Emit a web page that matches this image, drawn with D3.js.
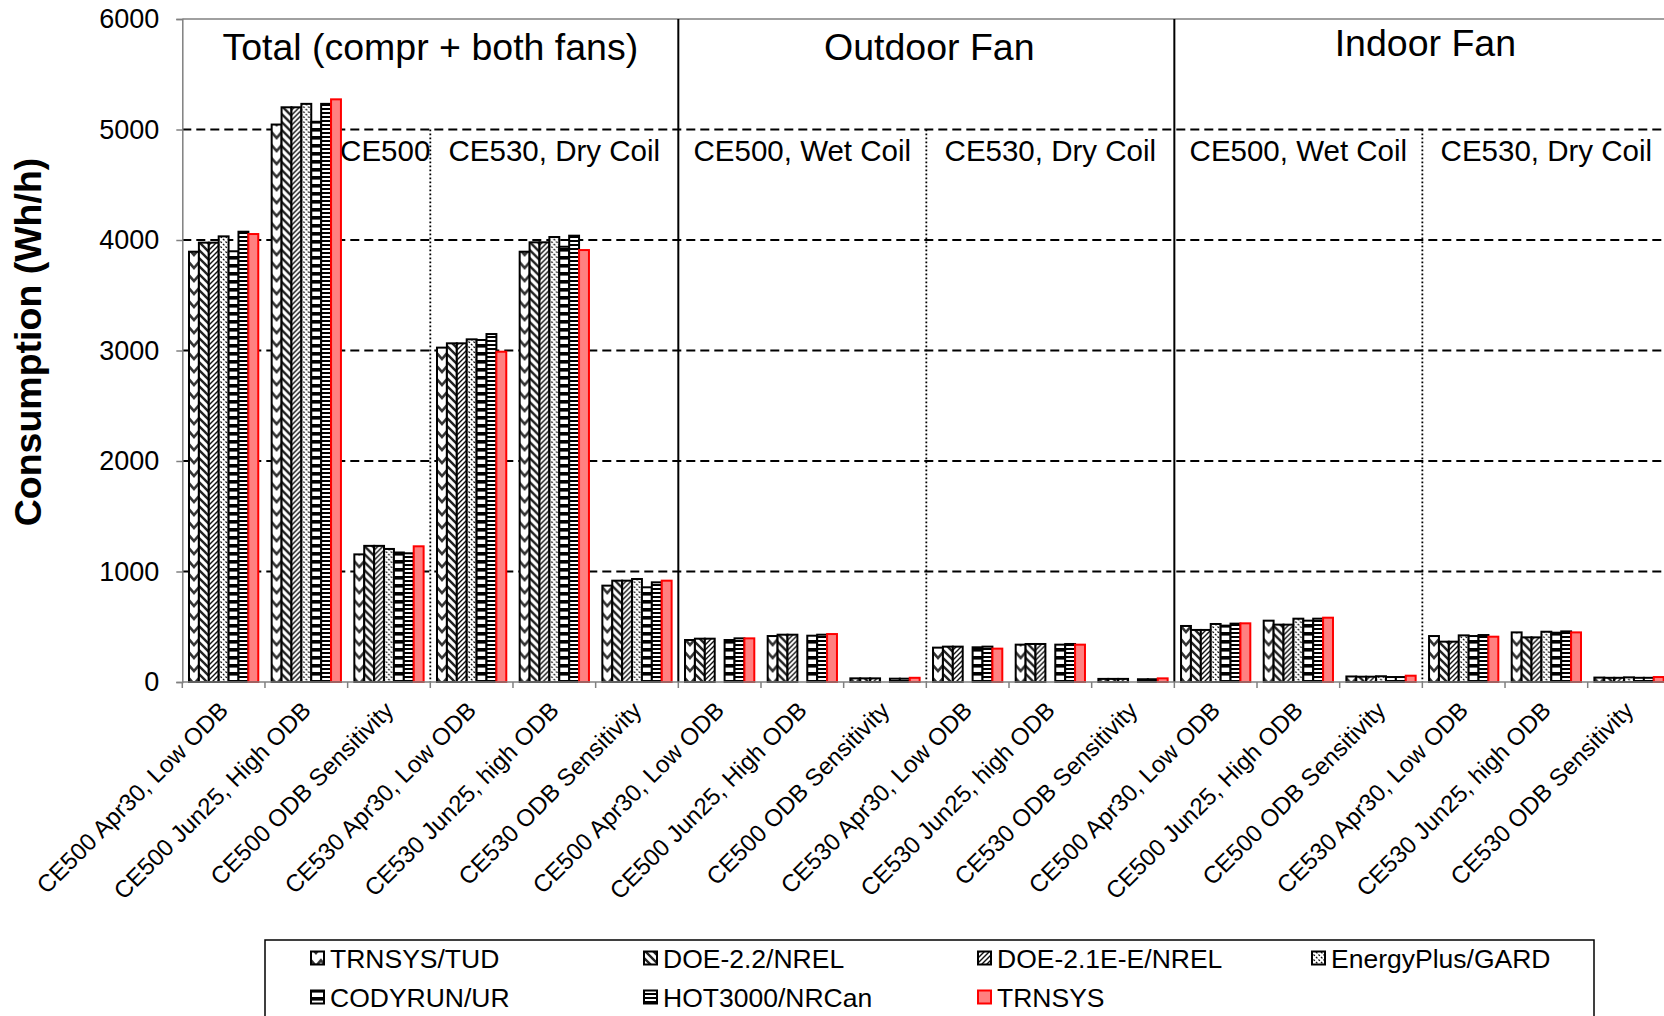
<!DOCTYPE html>
<html>
<head>
<meta charset="utf-8">
<script src="https://cdn.jsdelivr.net/npm/d3@7"></script>
<style>
  body { margin: 0; background: #fff; }
  text { font-family: "Liberation Sans", Arial, sans-serif; fill: #000; }
</style>
</head>
<body>
<svg id="chart" width="1664" height="1016"></svg>
<script>
'use strict';

// categories along the x axis (3 panels x 6 cases)
var cases = ["CE500 Apr30, Low ODB", "CE500 Jun25, High ODB", "CE500 ODB Sensitivity",
             "CE530 Apr30, Low ODB", "CE530 Jun25, high ODB", "CE530 ODB Sensitivity"];
var categories = cases.concat(cases, cases);

var series = ["TRNSYS/TUD", "DOE-2.2/NREL", "DOE-2.1E-E/NREL", "EnergyPlus/GARD",
              "CODYRUN/UR", "HOT3000/NRCan", "TRNSYS"];

// Wh/h
var trnsysTud   = [3894, 5045, 1155, 3026, 3894, 872,  380, 416, 33, 311, 338, 28,  507, 555, 50, 416, 449, 40];
var doe22       = [3976, 5201, 1232, 3065, 3979, 917,  392, 428, 33, 320, 344, 28,  471, 519, 48, 365, 404, 38];
var doe21e      = [3976, 5201, 1232, 3065, 3979, 917,  392, 428, 33, 320, 344, 28,  471, 519, 48, 365, 404, 38];
var energyPlus  = [4033, 5232, 1204, 3101, 4027, 932,  null, null, null, null, null, null,  525, 573, 52, 422, 455, 42];
var codyrun     = [3898, 5070, 1172, 3095, 3939, 857,  380, 419, 30, 314, 338, 25,  510, 555, 45, 416, 446, 38];
var hot3000     = [4075, 5232, 1165, 3149, 4039, 902,  395, 428, 30, 320, 344, 25,  528, 573, 45, 425, 458, 38];
var trnsys      = [4054, 5273, 1228, 2989, 3909, 917,  395, 434, 38, 302, 338, 33,  531, 582, 57, 410, 449, 45];
var values = [trnsysTud, doe22, doe21e, energyPlus, codyrun, hot3000, trnsys];

var yTicks = [0, 1000, 2000, 3000, 4000, 5000, 6000];
var gridValues = [1000, 2000, 3000, 4000, 5000];

var panelTitles = ["Total (compr + both fans)", "Outdoor Fan", "Indoor Fan"];
var subTitles = ["CE500", "CE530, Dry Coil", "CE500, Wet Coil", "CE530, Dry Coil",
                 "CE500, Wet Coil", "CE530, Dry Coil"];

var svg = d3.select("#chart");
var plotLeft = 182.3, plotTop = 19, plotBottom = 682;
var step = 82.67;

var x = d3.scaleBand()
    .domain(d3.range(categories.length))
    .range([plotLeft, plotLeft + step * categories.length])
    .paddingInner(0.162)
    .paddingOuter(0.081);

var xs = d3.scaleBand()
    .domain(d3.range(series.length))
    .range([0, x.bandwidth()]);

var y = d3.scaleLinear()
    .domain([0, 6000])
    .range([plotBottom, plotTop]);

function edge(i) {
    return plotLeft + i * x.step();
}

// hatch patterns, roughly like the old Excel fills
var defs = svg.append("defs");
function pattern(id, w, h, bg, build) {
    var p = defs.append("pattern")
        .attr("id", id)
        .attr("patternUnits", "userSpaceOnUse")
        .attr("width", w)
        .attr("height", h);
    p.append("rect").attr("width", w).attr("height", h).attr("fill", bg);
    build(p);
}
pattern("p0", 9.9, 13, "#fff", function(p) {
    p.append("path").attr("d", "M-1,1 L4.95,8 L10.9,1")
        .attr("fill", "none").attr("stroke", "#333").attr("stroke-width", 2.6);
});
pattern("p1", 8, 8, "#fff", function(p) {
    p.append("path").attr("d", "M-2,-2 L10,10 M-2,6 L2,10 M6,-2 L10,2")
        .attr("stroke", "#222").attr("stroke-width", 2.4);
});
pattern("p2", 5, 5, "#fff", function(p) {
    p.append("path").attr("d", "M-1,6 L6,-1 M-1,1 L1,-1 M4,6 L6,4")
        .attr("stroke", "#111").attr("stroke-width", 1.4);
});
pattern("p3", 5, 5, "#fff", function(p) {
    p.append("path").attr("d", "M-1,-1 L6,6 M-1,4 L1,6 M4,-1 L6,1")
        .attr("stroke", "#111").attr("stroke-width", 1.3)
        .attr("stroke-dasharray", "2,1.5");
});
pattern("p4", 10, 8, "#fff", function(p) {
    p.append("rect").attr("y", 0).attr("width", 10).attr("height", 3.6).attr("fill", "#000");
});
pattern("p5", 10, 4, "#fff", function(p) {
    p.append("rect").attr("y", 0).attr("width", 10).attr("height", 2).attr("fill", "#000");
});
var fills = ["url(#p0)", "url(#p1)", "url(#p2)", "url(#p3)", "url(#p4)", "url(#p5)", "#ff8080"];
var strokes = ["#000", "#000", "#000", "#000", "#000", "#000", "#ff0000"];

// top border
svg.append("line")
    .attr("x1", plotLeft).attr("x2", 1664)
    .attr("y1", y(6000)).attr("y2", y(6000))
    .attr("stroke", "#808080").attr("stroke-width", 1.5);

// dashed gridlines
svg.selectAll(".grid")
    .data(gridValues)
    .enter().append("line")
    .attr("class", "grid")
    .attr("x1", plotLeft).attr("x2", 1664)
    .attr("y1", function(d) { return y(d); })
    .attr("y2", function(d) { return y(d); })
    .attr("stroke", "#000").attr("stroke-width", 2)
    .attr("stroke-dasharray", "9,5");

// panel dividers
svg.selectAll(".panel")
    .data([6, 12])
    .enter().append("line")
    .attr("x1", function(d) { return edge(d); })
    .attr("x2", function(d) { return edge(d); })
    .attr("y1", y(6000)).attr("y2", y(0))
    .attr("stroke", "#000").attr("stroke-width", 2);

svg.selectAll(".sub")
    .data([3, 9, 15])
    .enter().append("line")
    .attr("x1", function(d) { return edge(d); })
    .attr("x2", function(d) { return edge(d); })
    .attr("y1", y(5000)).attr("y2", y(0))
    .attr("stroke", "#000").attr("stroke-width", 1.8)
    .attr("stroke-dasharray", "1.8,2.2");

// bars
var groups = svg.selectAll(".group")
    .data(categories)
    .enter().append("g")
    .attr("class", "group")
    .attr("transform", function(d, i) { return "translate(" + x(i) + ",0)"; });

groups.selectAll("rect")
    .data(function(d, i) {
        return values.map(function(s, k) { return {k: k, v: s[i]}; })
            .filter(function(e) { return e.v !== null; });
    })
    .enter().append("rect")
    .attr("x", function(d) { return xs(d.k); })
    .attr("width", xs.bandwidth())
    .attr("y", function(d) { return y(d.v); })
    .attr("height", function(d) { return y(0) - y(d.v); })
    .attr("fill", function(d) { return fills[d.k]; })
    .attr("stroke", function(d) { return strokes[d.k]; })
    .attr("stroke-width", 2);

// y axis
var yAxis = svg.append("g")
    .attr("transform", "translate(" + plotLeft + ",0)")
    .call(d3.axisLeft(y).tickValues(yTicks).tickSize(6).tickPadding(17).tickFormat(d3.format("d")));
yAxis.select(".domain").attr("stroke", "#808080").attr("stroke-width", 1.5);
yAxis.selectAll(".tick line").attr("stroke", "#808080").attr("stroke-width", 1.5);
yAxis.selectAll(".tick text")
    .style("font-family", "'Liberation Sans', Arial, sans-serif")
    .style("font-size", "27px").attr("fill", "#000");

// x axis line and separator ticks
svg.append("line")
    .attr("x1", plotLeft).attr("x2", 1664)
    .attr("y1", y(0)).attr("y2", y(0))
    .attr("stroke", "#808080").attr("stroke-width", 1.5);
svg.selectAll(".xtick")
    .data(d3.range(categories.length + 1))
    .enter().append("line")
    .attr("x1", function(d) { return edge(d); })
    .attr("x2", function(d) { return edge(d); })
    .attr("y1", y(0)).attr("y2", y(0) + 6)
    .attr("stroke", "#808080").attr("stroke-width", 1.5);

svg.selectAll(".xlabel")
    .data(categories)
    .enter().append("text")
    .attr("text-anchor", "end")
    .attr("transform", function(d, i) {
        return "translate(" + (x(i) + x.bandwidth() / 2 + 6) + ",712) rotate(-45)";
    })
    .style("font-size", "24px")
    .text(function(d) { return d; });

// y title
svg.append("text")
    .attr("transform", "translate(41,342) rotate(-90)")
    .attr("text-anchor", "middle")
    .style("font-size", "37.5px")
    .style("font-weight", "bold")
    .text("Consumption (Wh/h)");

// panel titles
svg.selectAll(".ptitle")
    .data(panelTitles)
    .enter().append("text")
    .attr("x", function(d, i) { return (edge(i * 6) + edge(i * 6 + 6)) / 2 + (i === 0 ? 0 : 3); })
    .attr("y", function(d, i) { return i === 2 ? 56 : 60; })
    .attr("text-anchor", "middle")
    .style("font-size", "37.5px")
    .text(function(d) { return d; });

svg.selectAll(".stitle")
    .data(subTitles)
    .enter().append("text")
    .attr("x", function(d, i) {
        return i === 0 ? edge(3) : (edge(i * 3) + edge(i * 3 + 3)) / 2;
    })
    .attr("y", 161)
    .attr("text-anchor", function(d, i) { return i === 0 ? "end" : "middle"; })
    .style("font-size", "29.5px")
    .text(function(d) { return d; });

// legend
var legend = svg.append("g");
legend.append("rect")
    .attr("x", 265).attr("y", 940)
    .attr("width", 1329).attr("height", 120)
    .attr("fill", "#fff").attr("stroke", "#000").attr("stroke-width", 1.5);

var legendCols = [311, 644, 978, 1312];
var legendRows = [958, 997];
var items = legend.selectAll(".item")
    .data(series)
    .enter().append("g")
    .attr("transform", function(d, i) {
        return "translate(" + legendCols[i % 4] + "," + legendRows[Math.floor(i / 4)] + ")";
    });
items.append("rect")
    .attr("x", 0).attr("y", -6.5)
    .attr("width", 13).attr("height", 13)
    .attr("fill", function(d, i) { return fills[i]; })
    .attr("stroke", function(d, i) { return strokes[i]; })
    .attr("stroke-width", 2);
items.append("text")
    .attr("x", 19).attr("y", 9.5)
    .style("font-size", "26.5px")
    .text(function(d) { return d; });
</script>
</body>
</html>
